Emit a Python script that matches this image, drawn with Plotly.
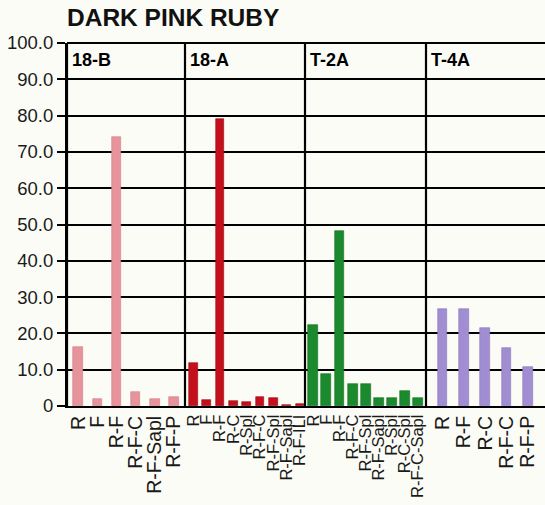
import plotly.graph_objects as go
from plotly.subplots import make_subplots

title = "DARK PINK RUBY"
panels = ["18-B", "18-A", "T-2A", "T-4A"]

cats_18b = ["R", "F", "R-F", "R-F-C", "R-F-Sapl", "R-F-P"]
vals_18b = [16.3, 1.9, 74.2, 3.9, 1.9, 2.4]

cats_18a = ["R", "F", "R-F", "R-C", "R-Spl", "R-F-C", "R-F-Spl", "R-F-Sapl", "R-F-ILI"]
vals_18a = [11.9, 1.7, 79.0, 1.4, 1.0, 2.5, 2.1, 0.4, 0.5]

cats_t2a = ["R", "F", "R-F", "R-F-C", "R-F-Spl", "R-F-Sapl", "R-Spl", "R-C-Spl", "R-F-C-Sapl"]
vals_t2a = [22.3, 8.8, 48.1, 6.1, 6.1, 2.1, 2.1, 4.1, 2.1]

cats_t4a = ["R", "R-F", "R-C", "R-F-C", "R-F-P"]
vals_t4a = [26.8, 26.8, 21.4, 16.1, 10.7]

y_ticks = [0, 10, 20, 30, 40, 50, 60, 70, 80, 90, 100]
y_tick_text = ["0", "10.0", "20.0", "30.0", "40.0", "50.0", "60.0", "70.0", "80.0", "90.0", "100.0"]

colors = ["#e6939c", "#c4101c", "#1b8a2e", "#a08dd2"]
edge_colors = ["#d47f88", "#9a0a14", "#11701f", "#8c79bf"]
widths = [0.52, 0.65, 0.76, 0.45]
ranges = [[-0.6, 5.6], [-0.62, 8.38], [-0.63, 8.6], [-0.78, 4.8]]
tick_sizes = [19.5, 16.5, 16.5, 19.5]

cats_all = [cats_18b, cats_18a, cats_t2a, cats_t4a]
vals_all = [vals_18b, vals_18a, vals_t2a, vals_t4a]

fig = make_subplots(rows=1, cols=4, shared_yaxes=True, horizontal_spacing=0,
                    column_widths=[118, 120, 121, 119])

FONT = "Liberation Sans, Arial, sans-serif"
bg = "#fcfcf6"

for i, (cats, vals) in enumerate(zip(cats_all, vals_all)):
    col = i + 1
    xs = list(range(len(cats)))
    fig.add_trace(go.Bar(x=xs, y=vals, width=widths[i],
                         marker=dict(color=colors[i], line=dict(color=edge_colors[i], width=0.6)),
                         showlegend=False, hoverinfo="y"), row=1, col=col)
    fig.update_xaxes(row=1, col=col, range=ranges[i], tickmode="array", tickvals=xs,
                     ticktext=cats, tickangle=-90, showgrid=False, zeroline=False,
                     showline=True, linecolor="black", linewidth=2, ticks="",
                     automargin=False,
                     tickfont=dict(family=FONT, size=tick_sizes[i], color="#1a1a1a"))
    xref = "x domain" if i == 0 else f"x{col} domain"
    fig.add_shape(type="line", xref=xref, yref="paper", x0=0, x1=0, y0=0, y1=1,
                  line=dict(color="black", width=2.2))
    fig.add_annotation(xref=xref, yref="y", x=0, y=95.2, xshift=3, xanchor="left",
                       yanchor="middle", text=f"<b>{panels[i]}</b>", showarrow=False,
                       font=dict(family=FONT, size=18, color="black"))

fig.update_yaxes(range=[0, 100], tickmode="array", tickvals=y_ticks, showgrid=True,
                 gridcolor="black", gridwidth=1.6, zeroline=False, automargin=False)
fig.update_yaxes(row=1, col=1, ticktext=y_tick_text, ticks="outside", ticklen=8,
                 tickcolor="black", tickwidth=1.5, showline=True, linecolor="black",
                 linewidth=2, tickfont=dict(family=FONT, size=18.5, color="#1a1a1a"))

fig.add_shape(type="line", xref="paper", yref="paper", x0=0, x1=1, y0=1, y1=1,
              line=dict(color="black", width=2))

fig.update_layout(
    width=545, height=505,
    margin=dict(l=67, r=0, t=43, b=99, autoexpand=False),
    paper_bgcolor=bg, plot_bgcolor=bg,
    bargap=0,
    title=dict(text=f"<b>{title}</b>", x=67/545, xanchor="left", xref="container",
               y=1 - 17.5/505, yanchor="middle", yref="container",
               font=dict(family=FONT, size=24.5, color="#111111")),
)

fig.write_html("out.html", config={"displayModeBar": False},
               post_script="document.body.style.margin='0';document.body.style.padding='0';document.body.style.overflow='hidden';document.body.style.background='#fcfcf6';")
